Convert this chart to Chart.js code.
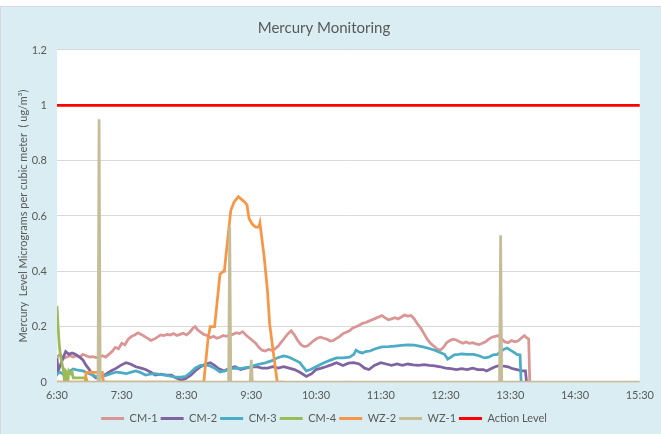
<!DOCTYPE html>
<html>
<head>
<meta charset="utf-8">
<script src="https://cdn.jsdelivr.net/npm/chart.js@4"></script>
<style>
html,body{margin:0;padding:0;background:#fff;}
#wrap{width:661px;height:434px;}
</style>
</head>
<body>
<div id="wrap"><canvas id="c" width="661" height="434"></canvas></div>
<script>
// Time of day in minutes after midnight (6:30 = 390, 15:30 = 930)
const xTickLabels = ["6:30","7:30","8:30","9:30","10:30","11:30","12:30","13:30","14:30","15:30"];
const yTickLabels = ["0","0.2","0.4","0.6","0.8","1","1.2"];

const cm1Minutes = [390,393,396,399,402,405,408,411,414,417,420,423,426,429,432,435,438,441,444,447,450,453,456,459,462,465,468,471,474,477,480,483,486,489,492,495,498,501,504,507,510,513,516,518,520,523,526,529,532,535,538,541,544,547,550,553,556,559,562,565,568,571,574,577,580,583,586,589,592,595,598,601,604,607,610,613,616,619,622,625,628,631,634,637,640,643,646,649,652,655,658,661,664,667,670,673,676,679,682,685,688,691,694,697,700,703,706,709,712,715,718,721,724,727,730,733,736,739,742,745,748,751,754,757,760,763,766,769,772,775,778,781,784,787,790,793,796,799,802,805,808,811,814,817,820,823,825,827,828];
const cm1Values  = [0.09,0.1,0.085,0.09,0.095,0.09,0.095,0.09,0.1,0.095,0.09,0.092,0.088,0.09,0.095,0.09,0.1,0.11,0.125,0.12,0.14,0.135,0.155,0.165,0.17,0.178,0.172,0.165,0.158,0.15,0.155,0.162,0.17,0.168,0.172,0.17,0.175,0.168,0.172,0.176,0.17,0.18,0.195,0.2,0.19,0.18,0.172,0.168,0.16,0.165,0.158,0.162,0.168,0.165,0.17,0.172,0.178,0.175,0.182,0.17,0.16,0.15,0.14,0.125,0.115,0.112,0.118,0.115,0.12,0.13,0.145,0.16,0.175,0.185,0.17,0.15,0.135,0.128,0.13,0.14,0.15,0.158,0.162,0.158,0.155,0.148,0.15,0.158,0.165,0.175,0.18,0.185,0.195,0.2,0.205,0.212,0.215,0.22,0.225,0.23,0.235,0.24,0.232,0.225,0.228,0.232,0.228,0.235,0.242,0.238,0.24,0.228,0.21,0.195,0.175,0.155,0.14,0.13,0.12,0.115,0.125,0.142,0.15,0.155,0.152,0.145,0.14,0.145,0.14,0.142,0.138,0.135,0.14,0.145,0.155,0.162,0.165,0.168,0.155,0.145,0.142,0.15,0.145,0.148,0.158,0.168,0.16,0.155,0];

const cm2Minutes = [390,391,393,396,398,401,404,407,411,414,417,420,423,426,429,432,436,440,445,449,454,458,463,468,472,477,481,486,491,496,500,505,509,514,518,523,528,532,536,539,545,550,555,560,565,570,575,580,585,590,595,600,605,610,615,621,626,630,635,639,644,649,655,660,665,670,675,679,684,690,695,700,705,710,715,720,725,730,735,740,745,750,755,760,765,770,775,780,785,788,792,796,800,804,808,812,816,820,824,825];
const cm2Values  = [0.087,0.04,0.06,0.09,0.11,0.1,0.105,0.1,0.09,0.08,0.06,0.045,0.025,0.015,0.015,0.02,0.03,0.04,0.05,0.06,0.07,0.065,0.055,0.05,0.045,0.035,0.025,0.028,0.025,0.025,0.015,0.007,0.012,0.025,0.04,0.055,0.065,0.07,0.06,0.05,0.04,0.05,0.055,0.045,0.05,0.055,0.055,0.05,0.05,0.055,0.05,0.055,0.05,0.045,0.035,0.02,0.03,0.045,0.05,0.055,0.062,0.07,0.06,0.068,0.07,0.065,0.05,0.045,0.06,0.07,0.065,0.06,0.065,0.06,0.065,0.062,0.06,0.063,0.06,0.058,0.055,0.05,0.048,0.045,0.048,0.045,0.05,0.045,0.045,0.04,0.048,0.055,0.06,0.057,0.055,0.048,0.045,0.04,0.04,0];

const cm3Minutes = [390,393,396,399,402,405,408,411,414,417,420,423,426,429,432,436,440,445,449,454,458,463,467,472,476,481,486,491,496,500,505,509,514,518,523,528,532,536,541,545,550,555,560,565,570,573,578,582,585,590,594,598,600,603,606,610,615,618,621,625,630,635,639,644,649,655,661,665,667,670,673,676,680,685,691,697,703,709,715,721,728,734,740,746,749,752,755,758,762,765,770,776,781,786,790,794,798,801,804,807,810,813,816,819,820];
const cm3Values  = [0.03,0.035,0.027,0.025,0.04,0.047,0.044,0.042,0.04,0.035,0.03,0.025,0.02,0.018,0.02,0.025,0.03,0.036,0.034,0.03,0.035,0.04,0.035,0.025,0.028,0.03,0.027,0.025,0.02,0.018,0.018,0.02,0.035,0.05,0.06,0.062,0.058,0.05,0.036,0.04,0.047,0.05,0.048,0.052,0.055,0.06,0.065,0.068,0.072,0.078,0.087,0.092,0.094,0.092,0.088,0.08,0.07,0.055,0.04,0.045,0.055,0.065,0.072,0.08,0.087,0.087,0.09,0.1,0.115,0.108,0.105,0.11,0.112,0.12,0.127,0.128,0.13,0.132,0.134,0.133,0.128,0.122,0.115,0.105,0.1,0.083,0.09,0.098,0.1,0.102,0.1,0.1,0.095,0.087,0.09,0.098,0.1,0.11,0.118,0.123,0.115,0.108,0.1,0.098,0];

const cm4Minutes = [390,391,392,393,394,395,396,397,398,399,400,401,402,403,404,405,410,417,418,420];
const cm4Values  = [0.275,0.2,0.14,0.1,0.08,0.06,0.04,0,0.04,0.035,0,0.04,0.035,0.03,0.035,0.015,0.015,0.015,0,0];

const wz2Minutes = [390,416,417,432,433,525,526,530,532,536,541,544,545,548,551,554,556,558,561,564,566,568,571,574,577,578,582,585,587,591,594,600];
const wz2Values  = [0,0,0.035,0.035,0,0,0,0.16,0.2,0.2,0.39,0.4,0.4,0.51,0.62,0.65,0.66,0.67,0.66,0.65,0.64,0.59,0.57,0.56,0.56,0.575,0.45,0.33,0.21,0.09,0,0];

const wz1Minutes = [390,428,429,430,549,550,551,569,570,571,800,801,802,930];
const wz1Values  = [0,0,0.95,0,0,0.56,0,0,0.08,0,0,0.53,0,0];

const actionMinutes = [390,930];
const actionValues  = [1,1];

const seriesNames  = ["CM-1","CM-2","CM-3","CM-4","WZ-2","WZ-1","Action Level"];
const seriesColors = ["#D99694","#8064A2","#4BACC6","#9BBB59","#F79646","#C4BD97","#FF0000"];
const seriesTimes  = [cm1Minutes,cm2Minutes,cm3Minutes,cm4Minutes,wz2Minutes,wz1Minutes,actionMinutes];
const seriesVals   = [cm1Values,cm2Values,cm3Values,cm4Values,wz2Values,wz1Values,actionValues];

const FONT = "Lato, 'Open Sans', sans-serif";
const TXT = "#595959";

const datasets = seriesNames.map((name, i) => ({
  label: name,
  data: seriesTimes[i].map((t, j) => ({x: t, y: seriesVals[i][j]})),
  borderColor: seriesColors[i],
  backgroundColor: seriesColors[i],
  borderWidth: 2.75,
  pointRadius: 0,
  tension: 0,
  fill: false,
  order: seriesNames.length - i
}));

const bgPlugin = {
  id: 'bg',
  beforeDraw(chart) {
    const ctx = chart.ctx, a = chart.chartArea;
    ctx.save();
    ctx.fillStyle = '#ffffff';
    ctx.fillRect(0, 0, chart.width, chart.height);
    ctx.fillStyle = '#DAEDF3';
    ctx.fillRect(0, 6, chart.width, chart.height - 6);
    ctx.strokeStyle = '#D9D9D9';
    ctx.lineWidth = 1;
    ctx.strokeRect(0.5, 6.5, chart.width, chart.height);
    ctx.fillStyle = '#ffffff';
    ctx.fillRect(a.left, a.top, a.right - a.left, a.bottom - a.top);
    ctx.restore();
  }
};

new Chart(document.getElementById('c'), {
  type: 'line',
  data: { datasets },
  plugins: [bgPlugin],
  options: {
    responsive: false,
    animation: false,
    layout: { padding: { left: 0, right: 13, top: 0, bottom: 0 } },
    plugins: {
      title: {
        display: true,
        text: 'Mercury Monitoring',
        color: TXT,
        font: { family: FONT, size: 15, weight: 'normal' },
        padding: { top: 19, bottom: 13 }
      },
      legend: {
        position: 'bottom',
        labels: {
          color: TXT,
          font: { family: FONT, size: 11 },
          boxWidth: 23,
          boxHeight: 3,
          padding: 3,
          sort: (a, b) => a.datasetIndex - b.datasetIndex,
          generateLabels(chart) {
            const items = Chart.defaults.plugins.legend.labels.generateLabels(chart);
            items.forEach(it => { it.lineWidth = 0; it.fillStyle = it.strokeStyle; });
            return items;
          }
        }
      },
      tooltip: { enabled: false }
    },
    scales: {
      x: {
        type: 'linear',
        min: 390,
        max: 930,
        afterBuildTicks(scale) {
          scale.ticks = xTickLabels.map((s, i) => ({ value: 390 + 60 * i }));
        },
        ticks: {
          autoSkip: false,
          maxRotation: 0,
          padding: 7,
          color: TXT,
          font: { family: FONT, size: 11 },
          callback: (v, i) => xTickLabels[i]
        },
        grid: { display: false, drawTicks: false },
        border: { display: false },
        afterFit(scale) { scale.height = 28; }
      },
      y: {
        min: 0,
        max: 1.2,
        afterBuildTicks(scale) {
          scale.ticks = yTickLabels.map((s, i) => ({ value: 0.2 * i }));
        },
        ticks: {
          padding: 10,
          color: TXT,
          font: { family: FONT, size: 11 },
          callback: (v, i) => yTickLabels[i]
        },
        grid: { color: '#D9D9D9', lineWidth: 1, drawTicks: false },
        border: { display: false },
        title: {
          display: true,
          text: 'Mercury  Level Micrograms per cubic meter  ( ug/m³)',
          color: TXT,
          font: { family: FONT, size: 11 },
          padding: { top: 17, bottom: 0 }
        },
        afterFit(scale) { scale.width = 57; }
      }
    }
  }
});
</script>
</body>
</html>
